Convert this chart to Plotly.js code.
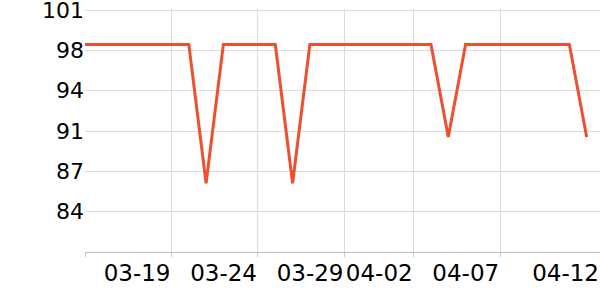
<!DOCTYPE html>
<html>
<head>
<meta charset="utf-8">
<script src="https://cdn.plot.ly/plotly-3.0.1.min.js"></script>
<style>html,body{margin:0;padding:0;background:#fff;}#chart{width:600px;height:300px;}</style>
</head>
<body>
<div id="chart"></div>
<script>
const dates = [
  '2024-03-14','2024-03-15','2024-03-16','2024-03-17','2024-03-18','2024-03-19',
  '2024-03-20','2024-03-21','2024-03-22','2024-03-23','2024-03-24','2024-03-25',
  '2024-03-26','2024-03-27','2024-03-28','2024-03-29','2024-03-30','2024-03-31',
  '2024-04-01','2024-04-02','2024-04-03','2024-04-04','2024-04-05','2024-04-06',
  '2024-04-07','2024-04-08','2024-04-09','2024-04-10','2024-04-11','2024-04-12'
];
const values = [
  98.1, 98.1, 98.1, 98.1, 98.1, 98.1,
  98.1, 86.4, 98.1, 98.1, 98.1, 98.1,
  86.4, 98.1, 98.1, 98.1, 98.1, 98.1,
  98.1, 98.1, 98.1, 90.3, 98.1, 98.1,
  98.1, 98.1, 98.1, 98.1, 98.1, 90.3
];
const xTickVals = ['2024-03-14','2024-03-19','2024-03-24','2024-03-29','2024-04-02','2024-04-07','2024-04-12 18:30'];
const xTickText = ['', '03-19', '03-24', '03-29', '04-02', '04-07', '04-12'];
const yTickVals = [84, 87.4, 90.8, 94.2, 97.6, 101];
const yTickText = ['84', '87', '91', '94', '98', '101'];
const xRange = ['2024-03-14', '2024-04-12 18:30'];
const yRange = [80.6, 101.085];

Plotly.newPlot('chart', [{
  x: dates, y: values, type: 'scatter', mode: 'lines',
  line: {color: 'rgb(238,79,46)', width: 3},
  hoverinfo: 'none'
}], {
  width: 600, height: 300,
  margin: {l: 85, r: 0, t: 9, b: 48},
  paper_bgcolor: '#fff', plot_bgcolor: '#fff',
  showlegend: false,
  font: {family: 'DejaVu Sans', size: 22, color: '#000'},
  xaxis: {
    type: 'date', range: xRange,
    tickmode: 'array', tickvals: xTickVals, ticktext: xTickText,
    ticklabelposition: 'outside left', tickangle: 0,
    ticklabeloverflow: 'allow',
    showgrid: true, gridcolor: '#dcdcdc', gridwidth: 1,
    showline: true, linecolor: '#bbbbbb', linewidth: 1,
    ticks: 'outside', ticklen: 4, tickcolor: '#cccccc',
    zeroline: false,
    tickfont: {family: 'DejaVu Sans', size: 23, color: '#000'}
  },
  yaxis: {
    range: yRange,
    tickmode: 'array', tickvals: yTickVals, ticktext: yTickText,
    ticklabeloverflow: 'allow',
    showgrid: true, gridcolor: '#dcdcdc', gridwidth: 1,
    showline: false, zeroline: false,
    ticks: '', ticklen: 4,
    tickfont: {family: 'DejaVu Sans', size: 22, color: '#000'}
  }
}, {staticPlot: true, displayModeBar: false});
</script>
</body>
</html>
